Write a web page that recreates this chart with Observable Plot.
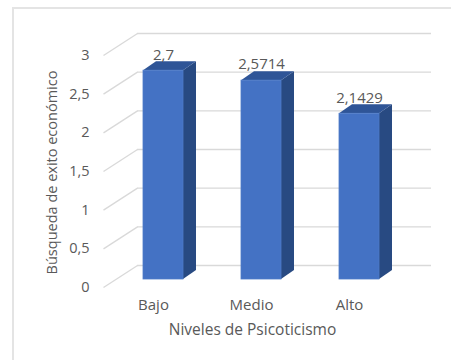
<!DOCTYPE html>
<html>
<head>
<meta charset="utf-8">
<script src="https://cdn.jsdelivr.net/npm/d3@7"></script>
<script src="https://cdn.jsdelivr.net/npm/@observablehq/plot@0.6"></script>
<style>
  html, body { margin: 0; padding: 0; background: #fff; }
  #wrap { position: relative; width: 451px; height: 360px; overflow: hidden; }
  #frame { position: absolute; left: 12px; top: 7px; width: 500px; height: 400px; border: 2px solid #e4e4e4; box-sizing: border-box; }
  #chart { position: absolute; left: 0; top: 0; }
</style>
</head>
<body>
<div id="wrap"><div id="frame"></div><div id="chart"></div></div>
<script>
// ---- data ----
const categories = ["Bajo", "Medio", "Alto"];
const values = [2.7, 2.5714, 2.1429];
const valueLabels = ["2,7", "2,5714", "2,1429"];
const yTicks = [0, 0.5, 1, 1.5, 2, 2.5, 3];
const yTickLabels = ["0", "0,5", "1", "1,5", "2", "2,5", "3"];
const xTitle = "Niveles de Psicoticismo";
const yTitle = "Búsqueda de exito económico";

// ---- layout ----
const W = 451, H = 360;
const mL = 114, mR = 43, mT = 47, mB = 81;
const pxX = (W - mL - mR) / 3;       // px per x unit
const pxY = (H - mT - mB) / 3;       // px per y unit
const halfW = 20 / pxX;              // half bar width in x units
const depX = 13 / pxX, depY = 9 / pxY; // bar depth offset

const bars = categories.map((c, i) => ({c, x: i + 0.5, v: values[i], label: valueLabels[i]}));
const sideFaces = bars.flatMap(b => [
  {c: b.c, x: b.x + halfW, y1: 0, y2: b.v},
  {c: b.c, x: b.x + halfW + depX, y1: depY, y2: b.v + depY}
]);
const topFaces = bars.flatMap(b => [
  {c: b.c, y: b.v, x1: b.x - halfW, x2: b.x + halfW},
  {c: b.c, y: b.v + depY, x1: b.x - halfW + depX, x2: b.x + halfW + depX}
]);
const ticks = yTicks.map((t, i) => ({t, label: yTickLabels[i]}));

const gridColor = "#d9d9d9";
const textColor = "#595959";

const chart = Plot.plot({
  width: W, height: H,
  marginLeft: mL, marginRight: mR, marginTop: mT, marginBottom: mB,
  x: {domain: [0, 3], axis: null},
  y: {domain: [0, 3], axis: null},
  style: {fontFamily: "'Open Sans', sans-serif", fontSize: "14px", color: textColor, background: "transparent", overflow: "visible"},
  marks: [
    // back wall gridlines
    Plot.ruleY(ticks, {y: "t", dx: 23, dy: -14, stroke: gridColor, strokeWidth: 1.3}),
    // side wall diagonals
    Plot.link(ticks, {
      x1: -11 / pxX, x2: 23 / pxX,
      y1: d => d.t - 8 / pxY, y2: d => d.t + 14 / pxY,
      stroke: gridColor, strokeWidth: 1.3
    }),
    // tick labels
    Plot.text(ticks, {x: 0, y: d => d.t - 8 / pxY, text: "label", textAnchor: "end", dx: -25, fill: textColor, fontSize: 14.5}),
    // bar side faces
    Plot.areaY(sideFaces, {x: "x", y1: "y1", y2: "y2", z: "c", fill: "#284a82"}),
    // bar top faces
    Plot.areaX(topFaces, {y: "y", x1: "x1", x2: "x2", z: "c", fill: "#2f5597"}),
    // bar front faces
    Plot.rectY(bars, {x1: d => d.x - halfW, x2: d => d.x + halfW, y1: 0, y2: "v", fill: "#4472c4", stroke: "#4f7cc9", strokeWidth: 0.8}),
    // data labels
    Plot.text(bars, {x: "x", y: "v", text: "label", dy: -16, fill: textColor, fontSize: 15}),
    // category labels
    Plot.text(bars, {x: "x", y: 0, text: "c", dx: -10, dy: 26, fill: textColor, fontSize: 15}),
    // axis titles
    Plot.text([xTitle], {frameAnchor: "bottom", textAnchor: "middle", lineAnchor: "middle", dx: -9, dy: 51, fill: textColor, fontSize: 15.5}),
    Plot.text([yTitle], {frameAnchor: "left", textAnchor: "middle", lineAnchor: "middle", rotate: -90, dx: -62, dy: 9, fill: textColor, fontSize: 14.5})
  ]
});
document.getElementById("chart").appendChild(chart);
</script>
</body>
</html>
